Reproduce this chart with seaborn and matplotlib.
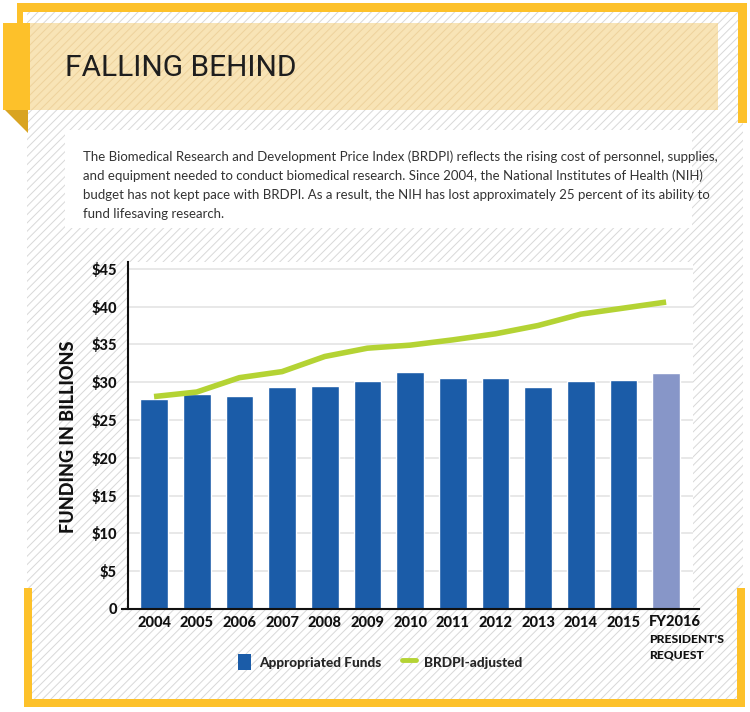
import matplotlib
matplotlib.use('Agg')
import matplotlib.pyplot as plt
import numpy as np
import pandas as pd
import seaborn as sns
from matplotlib.patches import Rectangle, Polygon, Patch
from matplotlib.lines import Line2D

# Data (billions of dollars)
years = ['2004', '2005', '2006', '2007', '2008', '2009', '2010',
         '2011', '2012', '2013', '2014', '2015', 'FY2016']
appropriated = [27.8, 28.4, 28.2, 29.3, 29.5, 30.2, 31.3,
                30.6, 30.6, 29.4, 30.2, 30.3, 31.2]
brdpi_adjusted = [28.1, 28.7, 30.6, 31.4, 33.4, 34.5, 34.9,
                  35.6, 36.4, 37.5, 39.0, 39.8, 40.6]
ytick_vals = [0, 5, 10, 15, 20, 25, 30, 35, 40, 45]
ytick_labels = ['0'] + [r'\$%d' % v for v in ytick_vals[1:]]

intro = ["The Biomedical Research and Development Price Index (BRDPI) reflects the rising cost of personnel, supplies,",
         "and equipment needed to conduct biomedical research. Since 2004, the National Institutes of Health (NIH)",
         "budget has not kept pace with BRDPI. As a result, the NIH has lost approximately 25 percent of its ability to",
         "fund lifesaving research."]

BLUE = '#1b5ca8'
LIGHT = '#8796c8'
GREEN = '#b4d334'
YELLOW = '#fdc12a'

sns.set_theme(style='white')
plt.rcParams['font.family'] = ['Lato', 'DejaVu Sans']
plt.rcParams['hatch.linewidth'] = 0.7

W, H = 750, 712
fig = plt.figure(figsize=(7.5, 7.12), dpi=100)
fig.patch.set_facecolor('white')


def box(x, y, w, h, **kw):
    # rectangle given in pixel coords measured from top-left
    r = Rectangle((x / W, 1 - (y + h) / H), w / W, h / H,
                  transform=fig.transFigure, **kw)
    fig.patches.append(r)
    return r


# hatched backdrop, banner and yellow frame pieces
box(27, 12, 716, 688, facecolor='white', edgecolor='#d8d8d8', hatch='////', lw=0, zorder=-5)
box(3, 23, 715, 87, facecolor='#f8e4b6', edgecolor='#edd29c', hatch='////', lw=0, zorder=-4)
box(3, 23, 27, 87, facecolor=YELLOW, lw=0, zorder=-3)
fold = Polygon([(5 / W, 1 - 110 / H), (28 / W, 1 - 110 / H), (28 / W, 1 - 133 / H)],
               closed=True, facecolor='#d9a422', lw=0, transform=fig.transFigure, zorder=-3)
fig.patches.append(fold)
box(17, 3, 730, 9, facecolor=YELLOW, lw=0, zorder=-3)
box(738, 3, 9, 120, facecolor=YELLOW, lw=0, zorder=-3)
box(17, 3, 6, 20, facecolor=YELLOW, lw=0, zorder=-3)
box(24, 588, 8, 119, facecolor=YELLOW, lw=0, zorder=-3)
box(24, 699, 721, 8, facecolor=YELLOW, lw=0, zorder=-3)
box(737, 588, 8, 119, facecolor=YELLOW, lw=0, zorder=-3)
box(65, 130, 627, 98, facecolor='white', lw=0, zorder=-3)

fig.text(65 / W, 1 - 68 / H, 'FALLING BEHIND', fontsize=21.5, color='#1e1e1e',
         family=['Roboto', 'DejaVu Sans'], fontweight='normal', va='center', ha='left')

for i, line in enumerate(intro):
    fig.text(83 / W, 1 - (161 + 19 * i) / H, line, fontsize=9.5, color='#333333',
             va='baseline', ha='left')

# chart
ax = fig.add_axes([128 / W, 1 - 609 / H, (693 - 128) / W, (609 - 262) / H])
ax.set_zorder(5)
ax.set_facecolor('white')

df = pd.DataFrame({'year': years, 'funds': appropriated, 'brdpi': brdpi_adjusted})
bar_colors = [BLUE] * (len(years) - 1) + [LIGHT]
sns.barplot(data=df, x='year', y='funds', hue='year', palette=bar_colors,
            legend=False, width=0.65, saturation=1, ax=ax, zorder=2)
sns.lineplot(x=np.arange(len(years)), y=df['brdpi'], color=GREEN, lw=4,
             ax=ax, zorder=3, solid_joinstyle='round', solid_capstyle='butt')

ax.set_xlim(-0.61, len(years) - 1 + 0.63)
ax.set_ylim(0, 45.9)
ax.set_yticks(ytick_vals)
ax.set_yticklabels(ytick_labels)
ax.yaxis.grid(True, color='#e4e4e4', lw=1.2)
ax.set_axisbelow(True)
ax.set_xlabel('')
ax.set_ylabel('')

for s in ['top', 'right']:
    ax.spines[s].set_visible(False)
for s in ['left', 'bottom']:
    ax.spines[s].set_color('#111111')
    ax.spines[s].set_linewidth(1.5)
ax.spines['bottom'].set_bounds(-0.75, len(years) - 1 + 0.78)

ax.tick_params(axis='both', length=0, labelsize=10.5, colors='#111111')
ax.tick_params(axis='y', pad=8)
ax.tick_params(axis='x', pad=5)
for t in ax.get_yticklabels() + ax.get_xticklabels():
    t.set_fontweight('black')
xl = [t.get_text() for t in ax.get_xticklabels()]
xl[-1] = ''
ax.set_xticks(range(len(years)))
ax.set_xticklabels(xl, fontweight='black')

# last category label, left aligned like the original
xt = ax.get_xaxis_transform()
ax.text(len(years) - 1 - 0.4, -0.038, years[-1], transform=xt,
        ha='left', va='center', fontsize=10.5, fontweight='black', color='#111111')
ax.text(len(years) - 1 - 0.4, -0.089, "PRESIDENT'S", transform=xt,
        ha='left', va='center', fontsize=8.7, fontweight='black', color='#111111')
ax.text(len(years) - 1 - 0.4, -0.133, "REQUEST", transform=xt,
        ha='left', va='center', fontsize=8.7, fontweight='black', color='#111111')

fig.text(68 / W, 1 - 437 / H, 'FUNDING IN BILLIONS', rotation=90, fontsize=13,
         fontweight='black', color='#111111', ha='center', va='center')

handles = [Patch(facecolor=BLUE, edgecolor='none'),
           Line2D([0], [0], color=GREEN, lw=3.5)]
fig.legend(handles, ['Appropriated Funds', 'BRDPI-adjusted'], loc='center',
           bbox_to_anchor=(380 / W, 1 - 662 / H), ncol=2, frameon=False,
           handlelength=1.0, handleheight=1.4, columnspacing=1.5, handletextpad=0.6,
           prop={'weight': 'black', 'size': 9.8})

fig.savefig('out.png', dpi=100)
